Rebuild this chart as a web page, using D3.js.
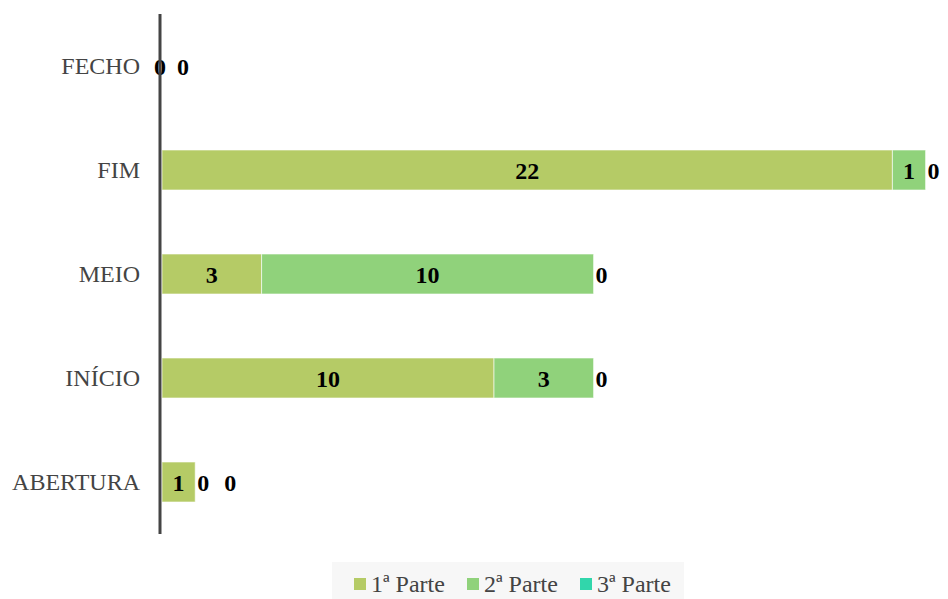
<!DOCTYPE html>
<html>
<head>
<meta charset="utf-8">
<script src="https://cdn.jsdelivr.net/npm/d3@7/dist/d3.min.js"></script>
<style>
  body { margin: 0; background: #fff; }
</style>
</head>
<body>
<div id="chart"></div>
<script>
// Chart data
var categories = ["FECHO", "FIM", "MEIO", "INÍCIO", "ABERTURA"];
var seriesNames = ["1ª Parte", "2ª Parte", "3ª Parte"];
var parte1 = [0, 22, 3, 10, 1];
var parte2 = [0, 1, 10, 3, 0];
var parte3 = [0, 0, 0, 0, 0];
var colors = ["#b5cb66", "#90d27b", "#31d6ab"];

var fontFamily = "'Liberation Serif', 'Times New Roman', 'DejaVu Serif', serif";

var svgWidth = 948;
var svgHeight = 599;
var margin = {top: 14, right: 10, bottom: 65, left: 162};
var width = svgWidth - margin.left - margin.right;
var height = svgHeight - margin.top - margin.bottom;

var svg = d3.select("#chart")
  .append("svg")
  .attr("width", svgWidth)
  .attr("height", svgHeight)
  .attr("font-family", fontFamily);

var chartGroup = svg.append("g")
  .attr("transform", `translate(${margin.left}, ${margin.top})`);

// Build rows for stacking
var rows = categories.map(function (c, i) {
  return {cat: c, "1ª Parte": parte1[i], "2ª Parte": parte2[i], "3ª Parte": parte3[i]};
});
var stacked = d3.stack().keys(seriesNames)(rows);

// Scales
var xScale = d3.scaleLinear()
  .domain([0, 23.3])
  .range([0, 33.2 * 23.3]);

var yScale = d3.scaleBand()
  .domain(categories)
  .range([0, height])
  .paddingInner(0.6154)
  .paddingOuter(0.3077);

// Bars
stacked.forEach(function (layer, si) {
  chartGroup.selectAll(".bar" + si)
    .data(layer)
    .enter()
    .append("rect")
    .attr("x", d => xScale(d[0]))
    .attr("y", d => yScale(d.data.cat))
    .attr("width", d => xScale(d[1]) - xScale(d[0]))
    .attr("height", yScale.bandwidth())
    .attr("fill", colors[si])
    .attr("stroke", "#fff")
    .attr("stroke-opacity", 0.6)
    .attr("stroke-width", 1);
});

// Category labels
chartGroup.selectAll(".cat")
  .data(categories)
  .enter()
  .append("text")
  .attr("x", -22)
  .attr("y", d => yScale(d) + yScale.bandwidth() / 2)
  .attr("dy", "0.35em")
  .attr("text-anchor", "end")
  .attr("font-family", fontFamily)
  .style("font-size", "24px")
  .style("fill", "#444")
  .text(d => d);

// Value labels: inside for non zero, after the stack for zeros
categories.forEach(function (c, i) {
  var total = parte1[i] + parte2[i] + parte3[i];
  var k = 0;
  stacked.forEach(function (layer, si) {
    var d = layer[i];
    var v = d[1] - d[0];
    var x;
    if (v > 0) {
      x = (xScale(d[0]) + xScale(d[1])) / 2;
    } else if (total === 0) {
      if (si === seriesNames.length - 1) return;
      x = xScale(0) - 2 + 23 * k;
      k++;
    } else {
      x = xScale(total) + 8 + 27 * k;
      k++;
    }
    chartGroup.append("text")
      .attr("x", x)
      .attr("y", yScale(c) + yScale.bandwidth() / 2 + 1)
      .attr("dy", "0.35em")
      .attr("text-anchor", "middle")
      .attr("font-family", fontFamily)
      .style("font-size", "24px")
      .style("font-weight", "bold")
      .style("fill", "#000")
      .text(v);
  });
});

// Left axis line
chartGroup.append("line")
  .attr("x1", -2)
  .attr("x2", -2)
  .attr("y1", 0)
  .attr("y2", height)
  .attr("stroke", "#444")
  .attr("stroke-width", 3);

// Legend
var legend = svg.append("g")
  .attr("transform", "translate(332, 562)");

legend.append("rect")
  .attr("width", 352)
  .attr("height", 37)
  .attr("fill", "#f7f7f7");

var legendX = [22, 135, 248];
seriesNames.forEach(function (name, i) {
  legend.append("rect")
    .attr("x", legendX[i])
    .attr("y", 16)
    .attr("width", 12)
    .attr("height", 12)
    .attr("fill", colors[i]);
  legend.append("text")
    .attr("x", legendX[i] + 17)
    .attr("y", 22)
    .attr("dy", "0.35em")
    .attr("font-family", fontFamily)
    .style("font-size", "24px")
    .style("fill", "#444")
    .text(name);
});
</script>
</body>
</html>
